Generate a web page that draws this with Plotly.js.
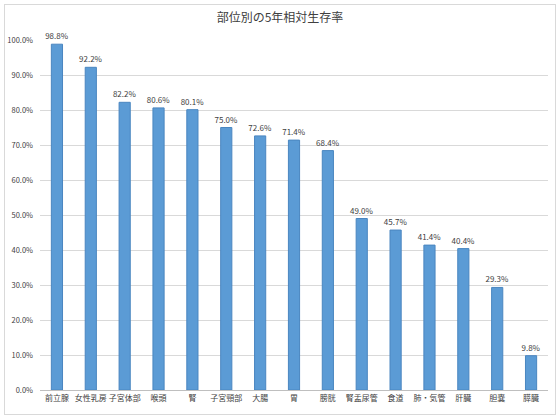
<!DOCTYPE html>
<html>
<head>
<meta charset="utf-8">
<script src="https://cdn.plot.ly/plotly-3.0.1.min.js"></script>
<style>
  body { margin: 0; background: #fff; }
  #frame {
    position: absolute; left: 4px; top: 4px;
    width: 552px; height: 411px;
    border: 1px solid #d9d9d9; box-sizing: border-box;
  }
  #chart { width: 550px; height: 409px; }
</style>
</head>
<body>
<div id="frame"><div id="chart"></div></div>
<script>
// 部位別の5年相対生存率
const sites = ['前立腺', '女性乳房', '子宮体部', '喉頭', '腎', '子宮頸部', '大腸', '胃',
               '膀胱', '腎盂尿管', '食道', '肺・気管', '肝臓', '胆嚢', '膵臓'];
const survival = [0.988, 0.922, 0.822, 0.806, 0.801, 0.750, 0.726, 0.714,
                  0.684, 0.490, 0.457, 0.414, 0.404, 0.293, 0.098];
const yTicks = [0, 0.1, 0.2, 0.3, 0.4, 0.5, 0.6, 0.7, 0.8, 0.9, 1.0];

const font = '"Noto Sans CJK JP", "Noto Sans", sans-serif';

const traces = [{
    type: 'bar',
    x: sites,
    y: survival,
    marker: {
        color: '#5b9bd5',
        line: { color: '#4a86c0', width: 1 },
    },
    texttemplate: '%{y:.1%}',
    textposition: 'outside',
    constraintext: 'none',
    cliponaxis: false,
    textfont: { family: font, size: 8, color: '#404040' },
    hoverinfo: 'skip',
}];

const layout = {
    width: 550,
    height: 409,
    showlegend: false,
    margin: { l: 35, r: 7, t: 35, b: 24 },
    bargap: 0.67,
    paper_bgcolor: '#fff',
    plot_bgcolor: '#fff',
    font: { family: font, color: '#595959' },
    title: {
        text: '部位別の5年相対生存率',
        font: { family: font, size: 12, color: '#404040' },
        x: 0.5, xanchor: 'center',
        y: 0.978, yanchor: 'top',
    },
    xaxis: {
        type: 'category',
        showline: true,
        linecolor: '#bfbfbf',
        linewidth: 1,
        ticks: '',
        showgrid: false,
        tickfont: { family: font, size: 8, color: '#404040' },
        tickangle: 0,
        automargin: false,
    },
    yaxis: {
        range: [0, 1.0],
        tickvals: yTicks,
        tickformat: '.1%',
        showgrid: true,
        gridcolor: '#d9d9d9',
        gridwidth: 1,
        zeroline: false,
        showline: false,
        ticks: '',
        ticklabelstandoff: 6,
        tickfont: { family: font, size: 7.5, color: '#404040' },
        automargin: false,
    },
};

const config = { displayModeBar: false, staticPlot: true };

Plotly.newPlot('chart', traces, layout, config);
</script>
</body>
</html>
